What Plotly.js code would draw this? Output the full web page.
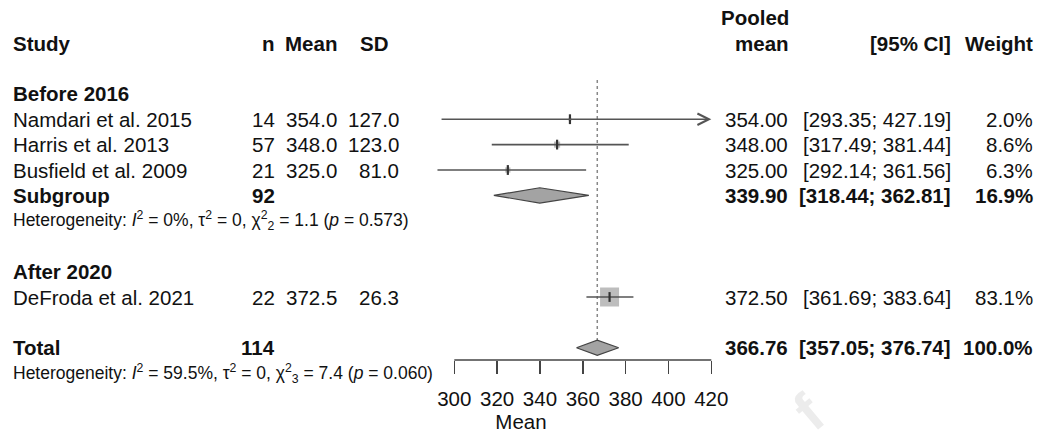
<!DOCTYPE html>
<html>
<head>
<meta charset="utf-8">
<script src="https://cdn.plot.ly/plotly-3.0.1.min.js"></script>
<style>html,body{margin:0;padding:0;background:#fff;}#chart{width:1042px;height:438px;}</style>
</head>
<body>
<div id="chart"></div>
<script>
// ---- data ----
const studies = ["Namdari et al. 2015", "Harris et al. 2013", "Busfield et al. 2009", "DeFroda et al. 2021"];
const groupOf = ["Before 2016", "Before 2016", "Before 2016", "After 2020"];
const nVals = [14, 57, 21, 22];
const meanVals = [354.0, 348.0, 325.0, 372.5];
const sdVals = [127.0, 123.0, 81.0, 26.3];
const pooledVals = [354.00, 348.00, 325.00, 372.50];
const ciLow = [293.35, 317.49, 292.14, 361.69];
const ciHigh = [427.19, 381.44, 361.56, 383.64];
const weights = [2.0, 8.6, 6.3, 83.1];

const groups = ["Before 2016", "After 2020"];
const subgroupLabel = "Subgroup";
const subgroupN = 92;
const subgroupMean = 339.90;
const subgroupLow = 318.44;
const subgroupHigh = 362.81;
const subgroupWeight = 16.9;
const subgroupHet = "Heterogeneity: <i>I</i><sup>2</sup> = 0%, τ<sup>2</sup> = 0, χ<sup>2</sup><sub>2</sub> = 1.1 (<i>p</i> = 0.573)";

const totalLabel = "Total";
const totalN = 114;
const totalMean = 366.76;
const totalLow = 357.05;
const totalHigh = 376.74;
const totalWeight = 100.0;
const totalHet = "Heterogeneity: <i>I</i><sup>2</sup> = 59.5%, τ<sup>2</sup> = 0, χ<sup>2</sup><sub>3</sub> = 7.4 (<i>p</i> = 0.060)";

const tickVals = [300, 320, 340, 360, 380, 400, 420];
const xTitle = "Mean";

// ---- layout rows (row index -> vertical slot) ----
const studyRows = [3, 4, 5, 10];
const groupRows = [2, 9];
const subgroupRow = 6, subgroupHetRow = 7, totalRow = 12, totalHetRow = 13;

const W = 1042, H = 438;
const FONT = "Liberation Sans, Arial, sans-serif";
const FS = 20.5, FS_SMALL = 17.5;
const TXT = "#111";
const LINE = "#555";
const xMin = tickVals[0], xMax = tickVals[tickVals.length - 1];
const rowPx = 25.4, row0 = 43, plotBottom = 360;
const rowToPaper = r => (plotBottom - (row0 + rowPx * r)) / plotBottom;

// columns (pixel positions)
const col = {study: 12, n: 276, mean: 338, sdHead: 389, sd: 400, pooled: 790, ci: 952, weight: 1034};

const traces = [];
const annotations = [];
function txt(x, row, text, anchor, opts) {
  opts = opts || {};
  annotations.push({
    x: x / W, xref: 'paper', y: rowToPaper(row), yref: 'paper', text: text, showarrow: false,
    xanchor: anchor, yanchor: 'middle', borderpad: 0,
    font: {family: FONT, size: opts.size || FS, color: TXT}
  });
}
const b = s => "<b>" + s + "</b>";

// headers
txt(col.study, 0, b("Study"), 'left');
txt(col.n, 0, b("n"), 'right');
txt(col.mean, 0, b("Mean"), 'right');
txt(col.sdHead, 0, b("SD"), 'right');
txt(col.pooled, -1, b("Pooled"), 'right');
txt(col.pooled, 0, b("mean"), 'right');
txt(col.ci, 0, b("[95% CI]"), 'right');
txt(col.weight, 0, b("Weight"), 'right');

groups.forEach((g, i) => txt(col.study, groupRows[i], b(g), 'left'));

// studies
studies.forEach((s, i) => {
  const r = studyRows[i];
  txt(col.study, r, s, 'left');
  txt(col.n, r, String(nVals[i]), 'right');
  txt(col.mean, r, meanVals[i].toFixed(1), 'right');
  txt(col.sd, r, sdVals[i].toFixed(1), 'right');
  txt(col.pooled - 1, r, pooledVals[i].toFixed(2), 'right');
  txt(col.ci, r, "[" + ciLow[i].toFixed(2) + "; " + ciHigh[i].toFixed(2) + "]", 'right');
  txt(col.weight, r, weights[i].toFixed(1) + "%", 'right');

  const hi = Math.min(ciHigh[i], xMax);
  const lo = Math.max(ciLow[i], xMin - 20);
  if (ciHigh[i] > xMax) {
    annotations.push({x: hi, y: r, xref: 'x', yref: 'y', ax: lo, ay: r, axref: 'x', ayref: 'y',
      showarrow: true, arrowhead: 5, arrowsize: 1.4, arrowwidth: 1.6, arrowcolor: LINE, text: '', standoff: 0});
  }
  // square (area proportional to weight)
  traces.push({x: [meanVals[i]], y: [r], type: 'scatter', mode: 'markers', hoverinfo: 'skip',
    marker: {symbol: 'square', size: 19 * Math.sqrt(weights[i] / 83.1), color: '#bdbdbd', line: {width: 0}}});
  if (ciHigh[i] <= xMax) {
    traces.push({x: [lo, hi], y: [r, r], type: 'scatter', mode: 'lines', hoverinfo: 'skip',
      line: {color: LINE, width: 1.6}});
  }
  traces.push({x: [meanVals[i]], y: [r], type: 'scatter', mode: 'markers', hoverinfo: 'skip',
    marker: {symbol: 'line-ns', size: 7, line: {color: '#333', width: 2.2}}});
});

// subgroup
txt(col.study, subgroupRow, b(subgroupLabel), 'left');
txt(col.n, subgroupRow, b(String(subgroupN)), 'right');
txt(col.pooled - 1, subgroupRow, b(subgroupMean.toFixed(2)), 'right');
txt(col.ci, subgroupRow, b("[" + subgroupLow.toFixed(2) + "; " + subgroupHigh.toFixed(2) + "]"), 'right');
txt(col.weight, subgroupRow, b(subgroupWeight.toFixed(1) + "%"), 'right');
txt(col.study, subgroupHetRow, subgroupHet, 'left', {size: FS_SMALL});

// total
txt(col.study, totalRow, b(totalLabel), 'left');
txt(col.n, totalRow, b(String(totalN)), 'right');
txt(col.pooled - 1, totalRow, b(totalMean.toFixed(2)), 'right');
txt(col.ci, totalRow, b("[" + totalLow.toFixed(2) + "; " + totalHigh.toFixed(2) + "]"), 'right');
txt(col.weight, totalRow, b(totalWeight.toFixed(1) + "%"), 'right');
txt(col.study, totalHetRow, totalHet, 'left', {size: FS_SMALL});

// diamonds
const dh = 0.3;
function diamond(lo, m, hi, r) {
  traces.push({x: [lo, m, hi, m, lo], y: [r, r - dh, r, r + dh, r], type: 'scatter', mode: 'lines',
    fill: 'toself', fillcolor: '#a3a3a3', line: {color: '#444', width: 1.2}, hoverinfo: 'skip'});
}
diamond(subgroupLow, subgroupMean, subgroupHigh, subgroupRow);
diamond(totalLow, totalMean, totalHigh, totalRow);

// reference line at pooled total
traces.unshift({x: [totalMean, totalMean], y: [1.46, totalRow - dh], type: 'scatter', mode: 'lines',
  line: {color: '#888', width: 1.5, dash: 'dot'}, hoverinfo: 'skip'});

// watermark
annotations.push({x: 808 / W, xref: 'paper', y: (plotBottom - 412) / plotBottom, yref: 'paper', text: '<b>f</b>', showarrow: false,
  textangle: -40, xanchor: 'center', yanchor: 'middle', font: {family: FONT, size: 56, color: '#ececec'}});

// axis scale: 300 -> px 454.3, 420 -> px 711.3
const pxPerUnit = (711.3 - 454.3) / (xMax - xMin);
const xRange = [xMin - 454.3 / pxPerUnit, xMin + (W - 454.3) / pxPerUnit];

const layout = {
  width: W, height: H, showlegend: false,
  paper_bgcolor: '#fff', plot_bgcolor: '#fff',
  margin: {l: 0, r: 0, t: 0, b: H - plotBottom, pad: 0},
  font: {family: FONT, color: TXT},
  xaxis: {range: xRange, tickvals: tickVals, ticktext: tickVals.map(String), ticks: 'outside', ticklen: 13,
    tickwidth: 1.5, tickcolor: '#444', showline: false, showgrid: false, zeroline: false,
    tickfont: {family: FONT, size: FS, color: TXT}, ticklabelstandoff: 7,
    title: {text: xTitle, font: {family: FONT, size: FS, color: TXT}, standoff: 4}, automargin: false, fixedrange: true},
  yaxis: {range: [(plotBottom - row0) / rowPx, -row0 / rowPx], visible: false, showgrid: false, zeroline: false, fixedrange: true},
  shapes: [{type: 'line', xref: 'x', yref: 'paper', x0: xMin, x1: xMax, y0: 0, y1: 0, line: {color: '#444', width: 1.5}}],
  annotations: annotations
};

Plotly.newPlot('chart', traces, layout, {staticPlot: true, displayModeBar: false});
</script>
</body>
</html>
